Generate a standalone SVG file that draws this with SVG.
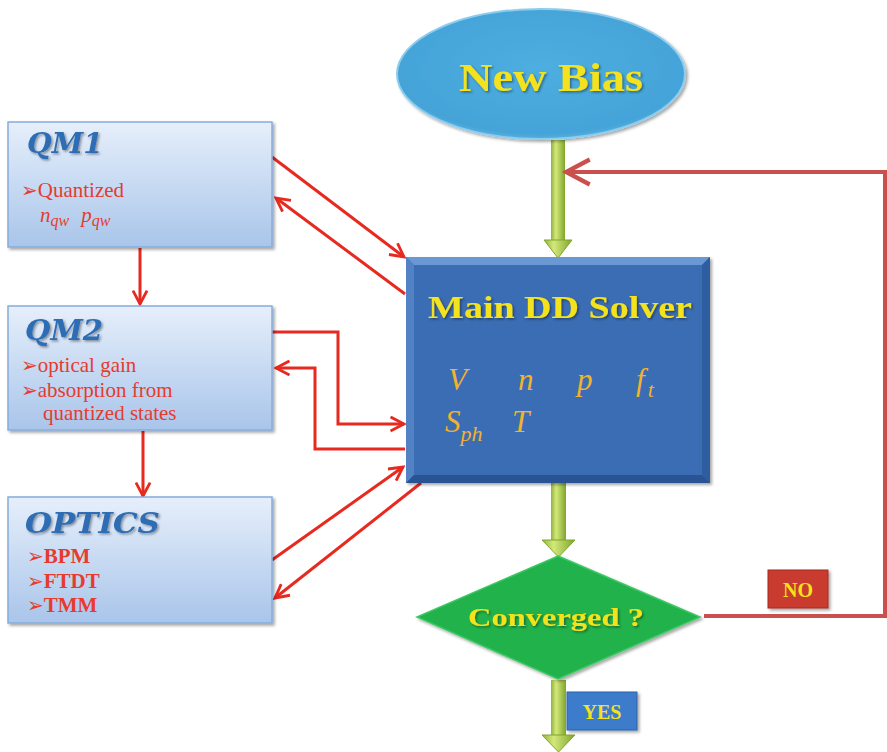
<svg xmlns="http://www.w3.org/2000/svg" width="887" height="752" viewBox="0 0 887 752">
<defs>
<style>
.box{stroke:#86acdc;stroke-width:1.5}
.title{font-family:"DejaVu Serif",serif;font-style:italic;font-weight:bold;font-size:28px;fill:#2d6cb4}
.item{font-family:"Liberation Serif",serif;font-size:21px;fill:#e63b2e}
.bul{font-family:"DejaVu Sans",sans-serif;font-size:20px}
.math{font-family:"Liberation Serif",serif;font-style:italic}
.yel{font-family:"Liberation Serif",serif;font-weight:bold;fill:#f4e21c}
.red{fill:none;stroke:#e8291f;stroke-width:3}
.fb{fill:none;stroke:#c9504c;stroke-width:4}
</style>
<linearGradient id="gBox" x1="0" y1="0" x2="0" y2="1">
<stop offset="0" stop-color="#e6effb"/><stop offset="1" stop-color="#a9c5ea"/>
</linearGradient>
<linearGradient id="gArrow" x1="0" y1="0" x2="1" y2="0">
<stop offset="0" stop-color="#8fb43a"/><stop offset="0.35" stop-color="#d4e87a"/><stop offset="1" stop-color="#7ea52c"/>
</linearGradient>
<radialGradient id="gEll" cx="0.5" cy="0.45" r="0.6">
<stop offset="0" stop-color="#4eaee0"/><stop offset="0.85" stop-color="#44a3d8"/><stop offset="1" stop-color="#72c0e8"/>
</radialGradient>
<filter id="sh" x="-10%" y="-10%" width="130%" height="130%">
<feDropShadow dx="2" dy="2" stdDeviation="1.5" flood-color="#000" flood-opacity="0.35"/>
</filter>
<filter id="tsh" x="-5%" y="-20%" width="110%" height="150%">
<feDropShadow dx="1.5" dy="1.5" stdDeviation="1" flood-color="#000" flood-opacity="0.4"/>
</filter>
<marker id="mRed" viewBox="0 0 12 12" refX="10.5" refY="6" markerWidth="17" markerHeight="17" markerUnits="userSpaceOnUse" orient="auto">
<path d="M1,1 L10.5,6 L1,11" fill="none" stroke="#e8291f" stroke-width="2"/>
</marker>
<marker id="mFb" viewBox="0 0 12 12" refX="10.5" refY="6" markerWidth="30" markerHeight="30" markerUnits="userSpaceOnUse" orient="auto">
<path d="M1,1 L10.5,6 L1,11" fill="none" stroke="#c9504c" stroke-width="1.7"/>
</marker>
</defs>
<rect width="887" height="752" fill="#fff"/>

<g id="connectors">
<g id="g1">
<rect x="551" y="140" width="14" height="102" fill="url(#gArrow)"/>
<polygon points="544,240 572,240 558,258" fill="url(#gArrow)" stroke="#7ea52c" stroke-width="1"/>
</g>
<g id="g2">
<rect x="551" y="483" width="15" height="58" fill="url(#gArrow)"/>
<polygon points="542,540 575,540 558.5,557" fill="url(#gArrow)" stroke="#7ea52c" stroke-width="1"/>
</g>
<g id="g3">
<rect x="551" y="680" width="15" height="56" fill="url(#gArrow)"/>
<polygon points="542,735 575,735 558.5,752" fill="url(#gArrow)" stroke="#7ea52c" stroke-width="1"/>
</g>
<polyline class="fb" points="704,616 885,616 885,172 566,172" marker-end="url(#mFb)"/>
<line class="red" x1="272" y1="157" x2="404" y2="257" marker-end="url(#mRed)"/>
<line class="red" x1="405" y1="294" x2="276" y2="198" marker-end="url(#mRed)"/>
<line class="red" x1="140" y1="248" x2="140" y2="304" marker-end="url(#mRed)"/>
<line class="red" x1="143" y1="431" x2="143" y2="496" marker-end="url(#mRed)"/>
<polyline class="red" points="272,332 338,332 338,424 404,424" marker-end="url(#mRed)"/>
<polyline class="red" points="405,449 315,449 315,368 276,368" marker-end="url(#mRed)"/>
<line class="red" x1="272" y1="560" x2="403" y2="467" marker-end="url(#mRed)"/>
<line class="red" x1="421" y1="483" x2="275" y2="598" marker-end="url(#mRed)"/>
</g>

<g id="newbias">
<ellipse cx="541" cy="74" rx="144" ry="65" fill="url(#gEll)" stroke="#8ccdee" stroke-width="2" filter="url(#sh)"/>
<text class="yel" x="551" y="91" font-size="41" text-anchor="middle" textLength="184" lengthAdjust="spacingAndGlyphs" filter="url(#tsh)">New Bias</text>
</g>

<g id="qm1">
<rect class="box" x="8" y="122" width="264" height="125" fill="url(#gBox)" filter="url(#sh)"/>
<text class="title" x="27" y="153" textLength="76" lengthAdjust="spacingAndGlyphs" filter="url(#tsh)">QM1</text>
<text class="item" x="21" y="197"><tspan class="bul">➢</tspan>Quantized</text>
<text class="item math" x="40" y="222" font-size="22">n<tspan font-size="16" dy="4">qw</tspan><tspan dy="-4" dx="12">p</tspan><tspan font-size="16" dy="4">qw</tspan></text>
</g>

<g id="qm2">
<rect class="box" x="8" y="306" width="264" height="124" fill="url(#gBox)" filter="url(#sh)"/>
<text class="title" x="25" y="340" textLength="78" lengthAdjust="spacingAndGlyphs" filter="url(#tsh)">QM2</text>
<text class="item" x="21" y="372"><tspan class="bul">➢</tspan>optical gain</text>
<text class="item" x="21" y="397"><tspan class="bul">➢</tspan>absorption from</text>
<text class="item" x="43" y="420">quantized states</text>
</g>

<g id="optics">
<rect class="box" x="8" y="497" width="264" height="126" fill="url(#gBox)" filter="url(#sh)"/>
<text class="title" x="25" y="533" textLength="135" lengthAdjust="spacingAndGlyphs" filter="url(#tsh)">OPTICS</text>
<text class="item" x="27" y="563" font-weight="bold" font-size="19"><tspan class="bul">➢</tspan>BPM</text>
<text class="item" x="27" y="588" font-weight="bold" font-size="19"><tspan class="bul">➢</tspan>FTDT</text>
<text class="item" x="27" y="612" font-weight="bold" font-size="19"><tspan class="bul">➢</tspan>TMM</text>
</g>

<g id="solver">
<g filter="url(#sh)">
<rect x="406" y="257" width="304" height="226" fill="#3a6db4"/>
<polygon points="406,257 710,257 702,265 414,265" fill="#6a98d4"/>
<polygon points="406,257 414,265 414,475 406,483" fill="#5282c4"/>
<polygon points="710,257 710,483 702,475 702,265" fill="#2e5da0"/>
<polygon points="406,483 710,483 702,475 414,475" fill="#2a5394"/>
</g>
<text class="yel" x="560" y="318" font-size="31" text-anchor="middle" textLength="264" lengthAdjust="spacingAndGlyphs" filter="url(#tsh)">Main DD Solver</text>
<g class="math" fill="#f2b22e" font-size="31">
<text x="448" y="390">V</text>
<text x="518" y="390">n</text>
<text x="577" y="390">p</text>
<text x="636" y="390">f<tspan font-size="22" dy="7" dx="3">t</tspan></text>
<text x="445" y="432">S<tspan font-size="22" dy="9">ph</tspan></text>
<text x="512" y="432">T</text>
</g>
</g>

<g id="converged">
<polygon points="558,556 700,617 558,679 417,617" fill="#22b24c" stroke="#3cc864" stroke-width="1.5" filter="url(#sh)"/>
<text class="yel" x="556" y="626" font-size="26" text-anchor="middle" textLength="176" lengthAdjust="spacingAndGlyphs" filter="url(#tsh)">Converged  ?</text>
</g>

<g id="no">
<rect x="768" y="570" width="60" height="38" fill="#c93a2e" stroke="#a62a20" stroke-width="1" filter="url(#sh)"/>
<text class="yel" x="798" y="597" font-size="20" text-anchor="middle">NO</text>
</g>

<g id="yes">
<rect x="567" y="692" width="70" height="38" fill="#3d7bcb" stroke="#2e63a8" stroke-width="1" filter="url(#sh)"/>
<text class="yel" x="602" y="719" font-size="20" text-anchor="middle">YES</text>
</g>
</svg>
